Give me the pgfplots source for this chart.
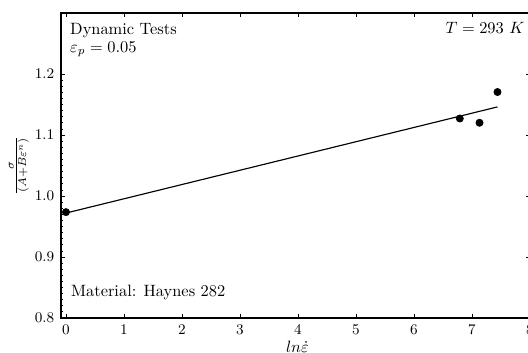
\documentclass[border=0pt,10pt]{standalone}
\usepackage{pgfplots}
\pgfplotsset{compat=1.18}
\begin{document}
\begin{tikzpicture}
\begin{axis}[
  at={(37.2pt,21.34pt)}, anchor=south west,
  scale only axis, width=286pt, height=186pt,
  xmin=-0.086, xmax=8, ymin=0.8, ymax=1.3,
  xtick={0,1,2,3,4,5,6,7,8},
  ytick={0.8,0.9,1.0,1.1,1.2},
  yticklabels={0.8,0.9,1.0,1.1,1.2},
  minor y tick num=9,
  tick align=inside,
  major tick length=2.44pt, minor tick length=1.22pt,
  tick style={black, line width=0.45pt},
  axis line style={line width=0.75pt},
  tick label style={font=\fontsize{9}{11}\selectfont},
  xticklabel style={yshift=-0.6pt},
  yticklabel style={xshift=-0.6pt},
  label style={font=\normalsize},
  xlabel={$ln\dot{\varepsilon}$},
  ylabel={$\frac{\sigma}{(A+B\varepsilon^n)}$},
  xlabel style={at={(axis description cs:0.504,-0.095)}, anchor=center},
  ylabel style={at={(axis description cs:-0.0896,0.5)}, anchor=center},
]
\addplot[black, line width=0.7pt, no marks] coordinates {(0,0.972) (7.44,1.146)};
\addplot[only marks, mark=*, mark size=2.2pt, black] coordinates {
  (0,0.9735) (6.79,1.127) (7.13,1.120) (7.44,1.1704)};
\node[anchor=base west, font=\normalsize, inner sep=0pt] at (rel axis cs:0.019,0.928) {Dynamic Tests};
\node[anchor=base west, font=\normalsize, inner sep=0pt] at (rel axis cs:0.019,0.872) {$\varepsilon_p = 0.05$};
\node[anchor=base west, font=\normalsize, inner sep=0pt] at (rel axis cs:0.021,0.0705) {Material: Haynes 282};
\node[anchor=base east, font=\normalsize, inner sep=0pt] at (rel axis cs:0.989,0.934) {$T = 293\ K$};
\end{axis}
\pgfresetboundingbox
\useasboundingbox (0,0) rectangle (322pt,215.25pt);
\end{tikzpicture}
\end{document}
